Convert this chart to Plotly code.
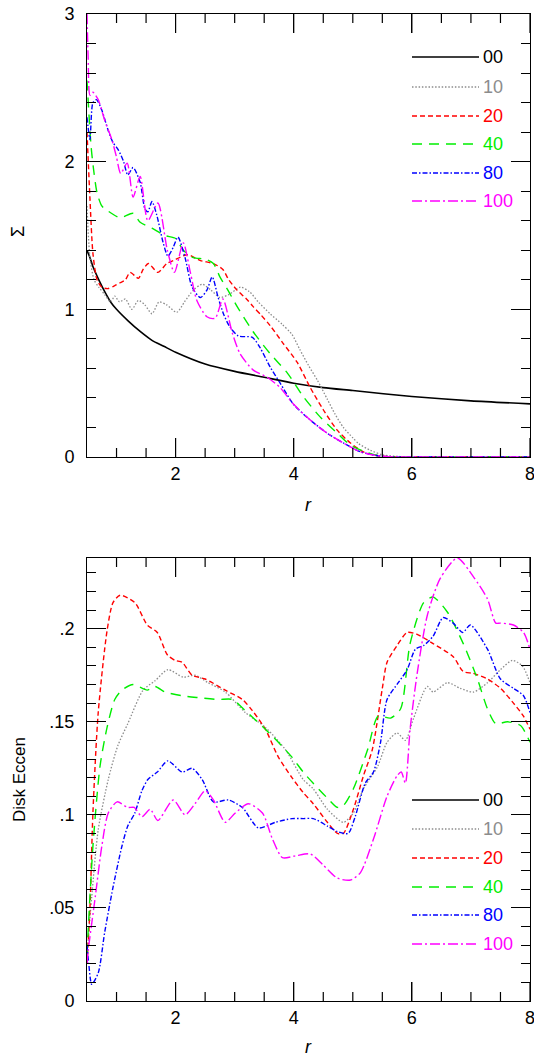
import plotly.graph_objects as go

# ---------------- data: top panel (Sigma vs r) ----------------
r00 = [0.5, 0.55, 0.6, 0.7, 0.8, 0.9, 1.0, 1.2, 1.4, 1.6, 1.8, 2.0, 2.5, 3.0, 3.5, 4.0, 4.5, 5.0, 6.0, 7.0, 8.0]
sig00 = [1.40, 1.35, 1.29, 1.20, 1.12, 1.05, 1.00, 0.92, 0.85, 0.79, 0.75, 0.71, 0.63, 0.58, 0.54, 0.50, 0.47, 0.45, 0.41, 0.38, 0.36]

r10 = [0.5, 0.55, 0.62, 0.7, 0.8, 0.9, 0.97, 1.05, 1.15, 1.26, 1.37, 1.48, 1.6, 1.72, 1.85, 2.02, 2.15, 2.3, 2.45,
       2.6, 2.75, 2.9, 3.1, 3.25, 3.4, 3.6, 3.8, 3.97, 4.1, 4.25, 4.4, 4.57, 4.7, 4.84, 5.0, 5.1, 5.3, 5.5, 5.8, 6.0, 7.0, 8.0]
sig10 = [1.70, 1.35, 1.20, 1.15, 1.10, 1.05, 1.09, 1.05, 1.07, 1.00, 1.06, 1.03, 0.97, 1.05, 1.03, 0.98, 1.05, 1.13, 1.17,
         1.13, 1.08, 1.10, 1.15, 1.12, 1.05, 0.97, 0.90, 0.83, 0.73, 0.62, 0.52, 0.39, 0.29, 0.20, 0.13, 0.09, 0.045, 0.015, 0.003, 0, 0, 0]

r20 = [0.5, 0.55, 0.6, 0.67, 0.75, 0.85, 0.97, 1.06, 1.15, 1.23, 1.37, 1.45, 1.54, 1.7, 1.85, 1.96, 2.2, 2.42, 2.64, 2.8,
       2.9, 3.04, 3.2, 3.31, 3.45, 3.6, 3.82, 4.06, 4.28, 4.5, 4.74, 4.96, 5.18, 5.4, 5.7, 6.0, 7.0, 8.0]
sig20 = [2.2, 1.75, 1.38, 1.2, 1.15, 1.14, 1.16, 1.18, 1.2, 1.25, 1.21, 1.27, 1.31, 1.25, 1.31, 1.33, 1.37, 1.33, 1.31, 1.27,
         1.2, 1.13, 1.07, 1.02, 0.96, 0.89, 0.77, 0.64, 0.47, 0.32, 0.18, 0.095, 0.034, 0.01, 0.0, 0, 0, 0]

r40 = [0.5, 0.57, 0.62, 0.67, 0.75, 0.84, 1.06, 1.28, 1.4, 1.6, 1.82, 2.0, 2.13, 2.3, 2.5, 2.64, 2.75, 2.9, 3.04, 3.31,
       3.6, 3.89, 4.16, 4.45, 4.74, 4.96, 5.18, 5.4, 5.7, 6.0, 7.0, 8.0]
sig40 = [2.55, 2.1, 1.92, 1.79, 1.70, 1.67, 1.62, 1.65, 1.59, 1.55, 1.50, 1.48, 1.40, 1.35, 1.34, 1.31, 1.22, 1.12, 1.02, 0.85,
         0.70, 0.57, 0.41, 0.27, 0.16, 0.08, 0.04, 0.012, 0, 0, 0, 0]

r80 = [0.5, 0.55, 0.6, 0.66, 0.75, 0.86, 0.94, 1.03, 1.12, 1.19, 1.28, 1.4, 1.48, 1.53, 1.6, 1.68, 1.79, 1.87, 1.96, 2.04,
       2.16, 2.28, 2.42, 2.53, 2.62, 2.72, 2.82, 2.92, 3.06, 3.3, 3.43, 3.6, 3.77, 3.99, 4.28, 4.57, 4.84, 5.13, 5.4, 5.7, 6.0, 7.0, 8.0]
sig80 = [2.3, 2.15, 2.40, 2.42, 2.35, 2.21, 2.13, 2.08, 2.0, 1.91, 1.96, 1.86, 1.68, 1.66, 1.73, 1.64, 1.45, 1.36, 1.42, 1.49,
         1.35, 1.15, 1.08, 1.13, 1.22, 1.08, 0.96, 0.88, 0.82, 0.81, 0.74, 0.61, 0.50, 0.36, 0.25, 0.16, 0.095, 0.035, 0.01, 0, 0, 0, 0]

r100 = [0.5, 0.52, 0.55, 0.6, 0.69, 0.8, 0.92, 1.0, 1.07, 1.18, 1.28, 1.4, 1.53, 1.7, 1.86, 1.98, 2.13, 2.25, 2.36, 2.53,
        2.67, 2.8, 2.96, 3.09, 3.31, 3.55, 3.77, 3.99, 4.28, 4.57, 4.84, 5.13, 5.4, 5.7, 6.0, 7.0, 8.0]
sig100 = [3.0, 2.7, 2.45, 2.47, 2.42, 2.28, 2.15, 2.03, 1.92, 1.99, 1.76, 1.90, 1.60, 1.72, 1.40, 1.25, 1.45, 1.25, 1.06, 0.95,
          0.94, 1.07, 0.84, 0.70, 0.59, 0.54, 0.47, 0.36, 0.25, 0.16, 0.095, 0.035, 0.01, 0, 0, 0, 0]

# ---------------- data: bottom panel (Disk eccentricity vs r) ----------------
rb00 = []
ecc00 = []

rb10 = [0.5, 0.58, 0.69, 0.86, 1.02, 1.19, 1.45, 1.65, 1.87, 2.13, 2.33, 2.55, 2.84, 3.18, 3.52, 3.86, 4.16, 4.33, 4.57,
        4.84, 5.01, 5.18, 5.42, 5.58, 5.75, 5.89, 6.03, 6.26, 6.36, 6.6, 6.82, 7.04, 7.28, 7.5, 7.7, 7.87, 8.0]
ecc10 = [0.025, 0.056, 0.092, 0.119, 0.137, 0.149, 0.167, 0.172, 0.178, 0.174, 0.175, 0.171, 0.166, 0.155, 0.147, 0.135,
         0.119, 0.114, 0.103, 0.096, 0.101, 0.114, 0.126, 0.139, 0.144, 0.140, 0.152, 0.169, 0.166, 0.171, 0.168, 0.166,
         0.171, 0.178, 0.183, 0.180, 0.171]

rb20 = [0.5, 0.55, 0.6, 0.69, 0.84, 0.94, 1.06, 1.31, 1.52, 1.69, 1.86, 1.99, 2.11, 2.28, 2.5, 2.84, 3.13, 3.3, 3.52, 3.74,
        3.97, 4.16, 4.33, 4.57, 4.74, 4.84, 5.01, 5.18, 5.33, 5.5, 5.58, 5.75, 5.92, 6.09, 6.36, 6.7, 6.87, 7.04, 7.28,
        7.5, 7.72, 7.89, 8.0]
ecc20 = [0.02, 0.05, 0.101, 0.155, 0.199, 0.214, 0.218, 0.214, 0.202, 0.198, 0.186, 0.183, 0.182, 0.175, 0.173, 0.167,
         0.162, 0.156, 0.146, 0.131, 0.120, 0.112, 0.106, 0.096, 0.090, 0.090, 0.103, 0.121, 0.135, 0.168, 0.182, 0.191,
         0.198, 0.197, 0.192, 0.185, 0.177, 0.176, 0.173, 0.168, 0.160, 0.153, 0.146]

rb40 = [0.5, 0.52, 0.6, 0.72, 0.84, 0.97, 1.09, 1.28, 1.52, 1.65, 1.82, 2.11, 2.38, 2.72, 2.96, 3.18, 3.52, 3.74, 3.97,
        4.16, 4.33, 4.57, 4.74, 4.84, 5.01, 5.25, 5.43, 5.64, 5.81, 5.97, 6.2, 6.36, 6.6, 6.87, 7.11, 7.28, 7.42, 7.62, 7.84, 8.0]
ecc40 = [0.025, 0.038, 0.083, 0.126, 0.147, 0.162, 0.167, 0.170, 0.167, 0.169, 0.166, 0.164, 0.163, 0.162, 0.162, 0.156,
         0.146, 0.139, 0.131, 0.123, 0.117, 0.109, 0.104, 0.105, 0.114, 0.135, 0.153, 0.152, 0.157, 0.192, 0.214, 0.217,
         0.209, 0.192, 0.173, 0.157, 0.149, 0.150, 0.148, 0.139]

rb80 = [0.5, 0.53, 0.58, 0.69, 0.8, 0.94, 1.09, 1.19, 1.31, 1.43, 1.53, 1.69, 1.87, 2.11, 2.28, 2.45, 2.64, 2.89, 3.13,
        3.4, 3.69, 3.97, 4.16, 4.33, 4.57, 4.74, 4.92, 5.04, 5.21, 5.35, 5.47, 5.58, 5.77, 5.92, 6.06, 6.2, 6.36, 6.53,
        6.7, 6.86, 6.99, 7.28, 7.5, 7.72, 7.89, 8.0]
ecc80 = [0.03, 0.02, 0.009, 0.015, 0.037, 0.061, 0.083, 0.094, 0.101, 0.113, 0.119, 0.123, 0.129, 0.123, 0.125, 0.119,
         0.107, 0.108, 0.104, 0.093, 0.096, 0.098, 0.098, 0.098, 0.094, 0.091, 0.090, 0.099, 0.117, 0.123, 0.139, 0.162,
         0.171, 0.178, 0.189, 0.191, 0.196, 0.206, 0.203, 0.198, 0.202, 0.189, 0.173, 0.168, 0.164, 0.155]

rb100 = [0.5, 0.52, 0.64, 0.75, 0.86, 1.01, 1.19, 1.3, 1.43, 1.57, 1.7, 1.96, 2.16, 2.33, 2.5, 2.64, 2.84, 3.01, 3.23,
         3.47, 3.64, 3.81, 4.03, 4.28, 4.5, 4.74, 4.96, 5.13, 5.35, 5.58, 5.75, 5.82, 5.89, 5.97, 6.09, 6.26, 6.48, 6.77,
         7.04, 7.28, 7.42, 7.5, 7.72, 7.89, 8.0]
ecc100 = [0.02, 0.027, 0.056, 0.083, 0.101, 0.107, 0.104, 0.104, 0.099, 0.103, 0.097, 0.108, 0.100, 0.106, 0.113, 0.108,
          0.096, 0.101, 0.106, 0.101, 0.087, 0.077, 0.078, 0.079, 0.073, 0.066, 0.065, 0.069, 0.087, 0.110, 0.121, 0.123,
          0.117, 0.146, 0.176, 0.207, 0.227, 0.238, 0.228, 0.216, 0.203, 0.203, 0.202, 0.198, 0.189]

labels = ["00", "10", "20", "40", "80", "100"]
colors = ["black", "#8c8c8c", "red", "#00ee00", "blue", "magenta"]
dashes = ["solid", "1.5px,1.8px", "5px,3px", "10px,7px", "5px,2px,1.5px,2px", "10px,3px,2px,3px"]
widths = [1.6, 1.3, 1.4, 1.4, 1.4, 1.4]

xticks = [2, 4, 6, 8]
xminor = [1, 1.5, 2.5, 3, 3.5, 4.5, 5, 5.5, 6.5, 7, 7.5]
sig_ticks = [0, 1, 2, 3]
ecc_ticks = [0, 0.05, 0.1, 0.15, 0.2]
ecc_ticktext = ["0", ".05", ".1", ".15", ".2"]

FONT = "Liberation Sans, Arial, Helvetica, sans-serif"
W, H = 534, 1058
ML, MR, MT, MB = 87, 4, 14, 57
PW = W - ML - MR
PH = H - MT - MB
PANEL_H = 443

fig = go.Figure()

top = [(r00, sig00), (r10, sig10), (r20, sig20), (r40, sig40), (r80, sig80), (r100, sig100)]
bot = [(rb00, ecc00), (rb10, ecc10), (rb20, ecc20), (rb40, ecc40), (rb80, ecc80), (rb100, ecc100)]

for i, (xs, ys) in enumerate(top):
    fig.add_trace(go.Scatter(x=xs, y=ys, mode="lines", name=labels[i], xaxis="x", yaxis="y",
                             line=dict(color=colors[i], dash=dashes[i], width=widths[i],
                                       shape="spline", smoothing=0.7),
                             showlegend=False, cliponaxis=True))
for i, (xs, ys) in enumerate(bot):
    fig.add_trace(go.Scatter(x=xs, y=ys, mode="lines", name=labels[i], xaxis="x2", yaxis="y2",
                             line=dict(color=colors[i], dash=dashes[i], width=widths[i],
                                       shape="spline", smoothing=0.7),
                             showlegend=False, cliponaxis=True))

top_dom = [1 - (457 - MT) / PH, 1.0]
bot_dom = [0.0, (1001 - 558) / PH]

axis_common = dict(showline=True, linecolor="black", linewidth=1, mirror="ticks", ticks="inside",
                   tickcolor="black", tickwidth=1.2, showgrid=False, zeroline=False,
                   tickfont=dict(family=FONT, size=18, color="black"), automargin=False,
                   ticklabeloverflow="allow", layer="above traces")

fig.update_layout(
    width=W, height=H, margin=dict(l=ML, r=MR, t=MT, b=MB),
    paper_bgcolor="white", plot_bgcolor="white", showlegend=False,
    font=dict(family=FONT, size=18, color="black"),
    xaxis=dict(range=[0.5, 8], domain=[0, 1], anchor="y", tickmode="array", tickvals=xticks, ticklen=19,
               **axis_common),
    yaxis=dict(range=[0, 3], domain=top_dom, anchor="x", tickmode="array", tickvals=sig_ticks, ticklen=19,
               minor=dict(tickmode="linear", dtick=0.2, tick0=0, ticks="inside", ticklen=9,
                          tickcolor="black", tickwidth=1.2),
               ticklabelstandoff=8, **axis_common),
    xaxis2=dict(range=[0.5, 8], domain=[0, 1], anchor="y2", tickmode="array", tickvals=xticks, ticklen=19,
                **axis_common),
    yaxis2=dict(range=[0, 0.238], domain=bot_dom, anchor="x2", tickmode="array", tickvals=ecc_ticks,
                ticktext=ecc_ticktext, ticklen=19,
                minor=dict(tickmode="linear", dtick=0.01, tick0=0, ticks="inside", ticklen=9,
                           tickcolor="black", tickwidth=1.2),
                ticklabelstandoff=8, **axis_common),
)


def px_x(px):
    return (px - ML) / PW


def px_y(py):
    return (H - MB - py) / PH


annotations = [
    dict(text="<i>r</i>", x=0.5, y=px_y(505), xref="paper", yref="paper", showarrow=False,
         font=dict(family=FONT, size=18, color="black"), xanchor="center", yanchor="middle"),
    dict(text="<i>r</i>", x=0.5, y=px_y(1047), xref="paper", yref="paper", showarrow=False,
         font=dict(family=FONT, size=18, color="black"), xanchor="center", yanchor="middle"),
    dict(text="Σ", x=px_x(18), y=px_y(232), xref="paper", yref="paper", showarrow=False, textangle=-90,
         font=dict(family=FONT, size=18, color="black"), xanchor="center", yanchor="middle"),
    dict(text="Disk Eccen", x=px_x(19), y=px_y(780), xref="paper", yref="paper", showarrow=False, textangle=-90,
         font=dict(family=FONT, size=17, color="black"), xanchor="center", yanchor="middle"),
]

shapes = []
# x-axis tick marks on bottom and top edges of both panels (inside)
for xr, yr in (("x", "y domain"), ("x2", "y2 domain")):
    for vals, ln in ((xticks, 19), (xminor, 9)):
        frac = ln / PANEL_H
        for v in vals:
            shapes.append(dict(type="line", xref=xr, yref=yr, x0=v, x1=v, y0=0, y1=frac,
                               line=dict(color="black", width=1.2), layer="above"))
            shapes.append(dict(type="line", xref=xr, yref=yr, x0=v, x1=v, y0=1 - frac, y1=1,
                               line=dict(color="black", width=1.2), layer="above"))

leg_top = [57, 87, 116, 144, 173, 201]
leg_bot = [800, 829, 858, 887, 915, 944]
for rows in (leg_top, leg_bot):
    for i, py in enumerate(rows):
        shapes.append(dict(type="line", xref="paper", yref="paper", x0=px_x(412), x1=px_x(479),
                           y0=px_y(py), y1=px_y(py),
                           line=dict(color=colors[i], dash=dashes[i], width=widths[i])))
        annotations.append(dict(text=labels[i], x=px_x(481), y=px_y(py), xref="paper", yref="paper",
                                showarrow=False, xanchor="left", yanchor="middle",
                                font=dict(family=FONT, size=18, color=colors[i])))

fig.update_layout(annotations=annotations, shapes=shapes)
fig.write_html("out.html", config={"displayModeBar": False},
               post_script="document.body.style.margin='0';document.body.style.overflow='hidden';")
